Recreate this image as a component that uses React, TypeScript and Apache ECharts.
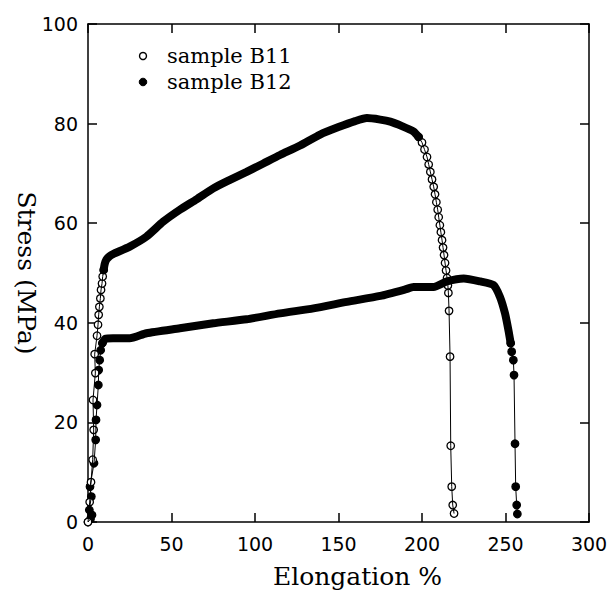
import React, { useEffect, useRef } from "react";
import * as echarts from "echarts";

const xTicks = [0, 50, 100, 150, 200, 250, 300];
const yTicks = [0, 20, 40, 60, 80, 100];

// sample B11 (open circles)
const b11Rise: number[][] = [
  [0, 0], [1, 4], [1.8, 8], [2.8, 12.5], [3.4, 18.5], [3, 24.5], [4.4, 29.9], [4, 33.7],
  [5.4, 37.4], [6, 39.6], [6.4, 41.6], [6.8, 43.2], [7.4, 44.9], [7.8, 46.6], [8.4, 47.9],
  [8.8, 49.3], [9.4, 50.6],
];
const b11Band: number[][] = [
  [9.4, 50.6], [10, 51.8], [11, 52.7], [13, 53.4], [15, 53.8], [25, 55.3], [35, 57.3],
  [45, 60.3], [55, 62.7], [65, 64.8], [75, 67], [85, 68.7], [95, 70.3], [105, 72],
  [115, 73.7], [127, 75.6], [139, 77.8], [150, 79.3], [160, 80.5], [167, 81.1], [175, 80.8],
  [181, 80.4], [188, 79.5], [195, 78.4], [198, 77.3],
];
const b11Fall: number[][] = [
  [198, 77.3], [200, 76.2], [201.5, 74.8], [203, 73.3], [204, 71.8], [205, 70.3], [206, 68.8],
  [207, 67.3], [207.8, 65.8], [208.6, 64.2], [209.4, 62.7], [210, 61.2], [210.7, 59.6],
  [211.3, 58.2], [212, 56.6], [212.6, 55.1], [213.2, 53.6], [213.8, 52], [214.4, 50.5],
  [215, 49], [215.5, 47.5], [215.8, 46], [216.2, 42.4], [216.8, 33.2], [217.2, 15.3],
  [217.8, 7.1], [218.4, 3.4], [219.2, 1.7],
];

// sample B12 (filled circles)
const b12Rise: number[][] = [
  [0, 0], [1.5, 0.6], [2.4, 1.4], [0.8, 2.4], [2, 5.1], [1.2, 7.1], [3.6, 11.8], [4.6, 16.5],
  [4.8, 20.5], [5.4, 23.5], [6.2, 27.5], [6.4, 30.5], [7, 32.5], [7.6, 34.5], [8.6, 35.9],
];
const b12Band: number[][] = [
  [8.6, 35.9], [10.4, 36.8], [15, 36.9], [25, 36.9], [35, 37.9], [55, 38.9], [75, 39.9],
  [95, 40.7], [115, 41.9], [135, 42.9], [155, 44.2], [175, 45.4], [190, 46.7], [195, 47.2],
  [207, 47.2], [215, 48.3], [225, 48.9], [235, 48.3], [242.7, 47.6], [246.7, 45.2],
  [249.7, 41.9], [251.7, 38.6], [253.1, 35.9],
];
const b12Fall: number[][] = [
  [253.1, 35.9], [253.7, 34.2], [254.7, 32.5], [255.1, 29.5], [255.7, 15.7], [256.1, 7.1],
  [256.7, 3.4], [257.1, 1.6],
];

const legendNames = ["sample B11", "sample B12"];

export default function App() {
  const ref = useRef<HTMLDivElement>(null);
  useEffect(() => {
    if (!ref.current) return;
    const chart = echarts.init(ref.current, null, { renderer: "svg" });
    const axisCommon = {
      type: "value" as const,
      min: 0,
      axisLine: { show: true, onZero: false, lineStyle: { color: "#000", width: 1.5 } },
      axisTick: { show: true, inside: true, length: 9, lineStyle: { color: "#000", width: 1.5 } },
      splitLine: { show: false },
    };
    const labelStyle = { color: "#000", fontFamily: "DejaVu Sans", fontSize: 19 };
    const thin = (data: number[][]) => ({
      type: "line", data, symbol: "none", silent: true,
      lineStyle: { color: "#000", width: 1 },
    });
    const band = (data: number[][]) => ({
      type: "line", data, symbol: "none", silent: true, smooth: 0.2,
      lineStyle: { color: "#000", width: 8, cap: "round", join: "round" },
    });
    const marks = (data: number[][], fill: string) => ({
      type: "scatter", data, symbol: "circle", symbolSize: 7.5, silent: true,
      itemStyle: { color: fill, borderColor: "#000", borderWidth: 1.3, opacity: 1 },
    });
    chart.setOption({
      animation: false,
      backgroundColor: "#fff",
      grid: { left: 88, top: 24, right: 21, bottom: 69, containLabel: false, outerBoundsMode: "none" },
      xAxis: [
        {
          ...axisCommon, max: 300, interval: 50, position: "bottom",
          axisLabel: { ...labelStyle, margin: 12, formatter: (v: number) => (xTicks.includes(v) ? String(v) : "") },
          name: "Elongation %", nameLocation: "middle", nameGap: 42, nameMoveOverlap: false,
          nameTextStyle: { color: "#000", fontFamily: "DejaVu Serif", fontSize: 25, padding: [0, 0, 0, 38] },
        },
        { ...axisCommon, max: 300, interval: 50, position: "top", axisLabel: { show: false } },
      ],
      yAxis: [
        {
          ...axisCommon, max: 100, interval: 20, position: "left",
          axisLabel: { ...labelStyle, margin: 10, formatter: (v: number) => (yTicks.includes(v) ? String(v) : "") },
          name: "Stress (MPa)", nameLocation: "middle", nameGap: 49, nameRotate: -90, nameMoveOverlap: false,
          nameTextStyle: { color: "#000", fontFamily: "DejaVu Serif", fontSize: 25 },
        },
        { ...axisCommon, max: 100, interval: 20, position: "right", axisLabel: { show: false } },
      ],
      graphic: [
        { type: "circle", shape: { cx: 143, cy: 56, r: 3.5 }, style: { fill: "#fff", stroke: "#000", lineWidth: 1.4 } },
        { type: "text", x: 167, y: 56, style: { text: legendNames[0], fill: "#000", font: '21px "DejaVu Serif"', verticalAlign: "middle" } },
        { type: "circle", shape: { cx: 143, cy: 82, r: 3.8 }, style: { fill: "#000", stroke: "#000", lineWidth: 1 } },
        { type: "text", x: 167, y: 82, style: { text: legendNames[1], fill: "#000", font: '21px "DejaVu Serif"', verticalAlign: "middle" } },
      ],
      series: [
        thin([...b12Rise, ...b12Band, ...b12Fall]),
        band(b12Band),
        marks([...b12Rise, ...b12Fall], "#000"),
        thin([...b11Rise, ...b11Band, ...b11Fall]),
        band(b11Band),
        marks([...b11Rise, ...b11Fall], "#fff"),
      ],
    });
    return () => chart.dispose();
  }, []);
  return <div ref={ref} style={{ position: "fixed", left: 0, top: 0, width: 610, height: 591 }} />;
}
